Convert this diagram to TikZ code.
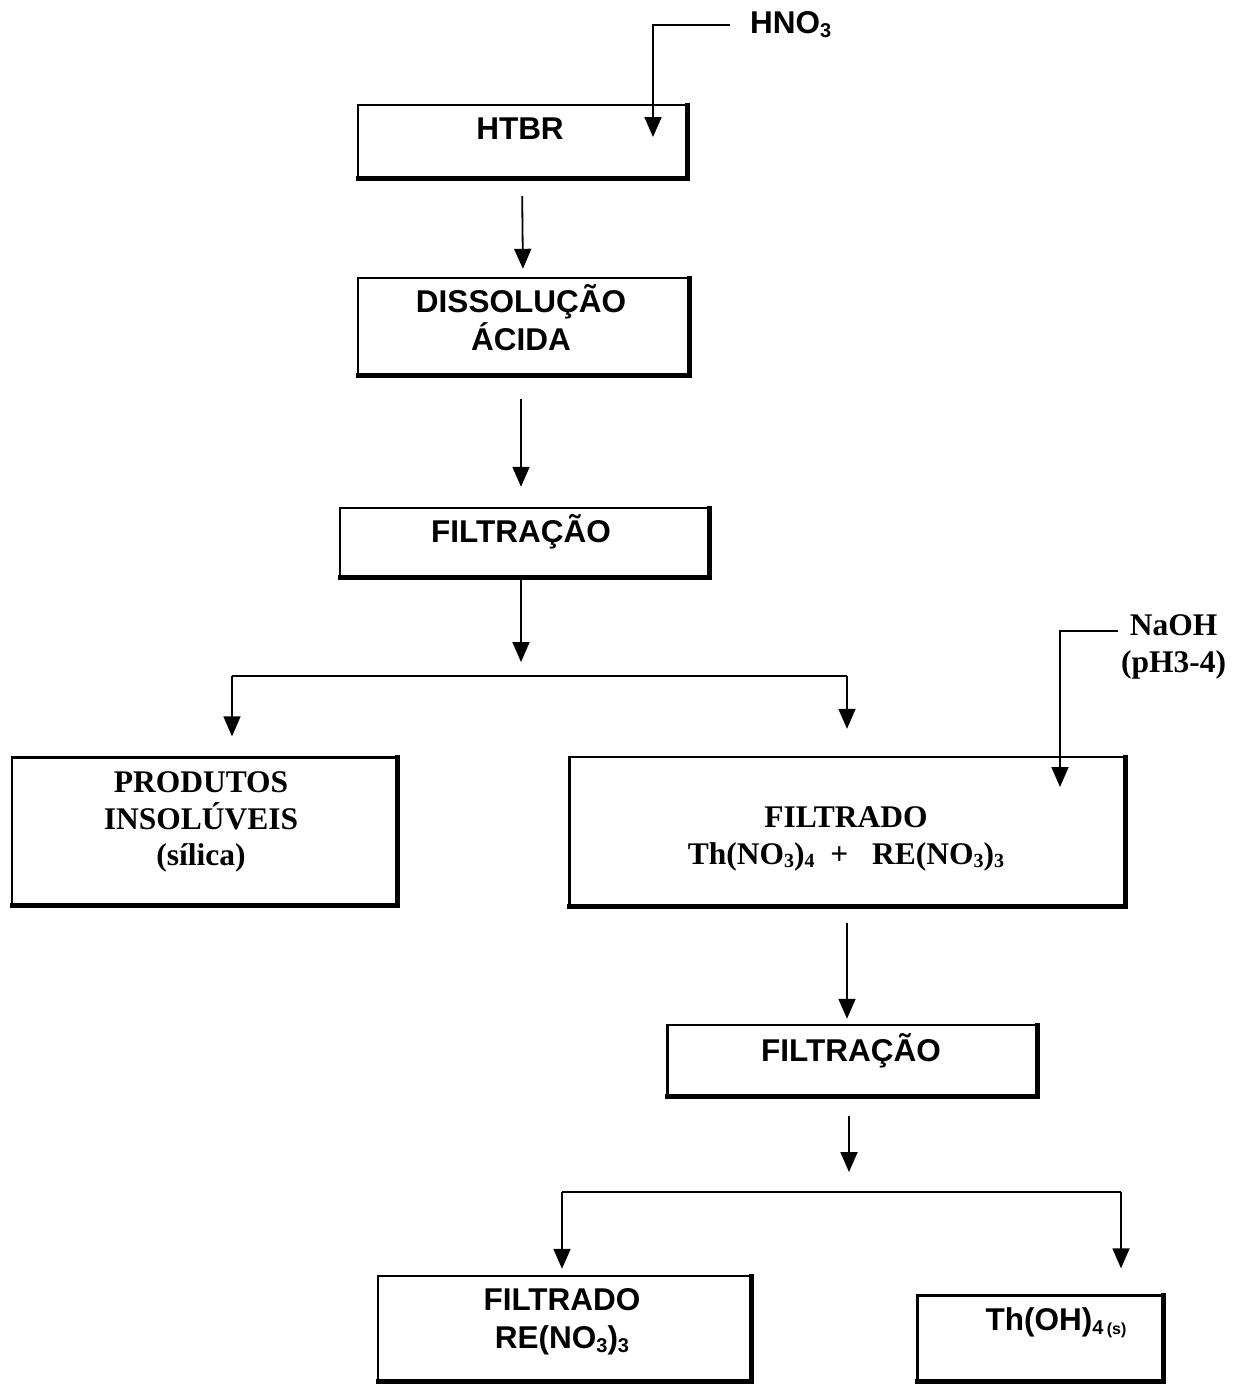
\documentclass[tikz,border=0pt]{standalone}
\usepackage{fontspec}
\setmainfont{Liberation Serif}
\setsansfont{Liberation Sans}
\usetikzlibrary{arrows.meta}

% chemical subscript, set a little smaller and lowered
\newcommand\chsub[1]{\raisebox{-0.25ex}{\fontsize{20}{20}\selectfont #1}}

\begin{document}
\begin{tikzpicture}[x=1pt,y=-1pt,
  box/.style={draw, line width=2.4pt, fill=white, inner sep=0pt},
  heavyedge/.style={line width=5pt, line join=miter, line cap=butt},
  sanslbl/.style={font=\fontsize{31.5}{38}\selectfont\sffamily\bfseries, align=center, inner sep=0pt},
  seriflbl/.style={font=\fontsize{31.5}{36.5}\selectfont\rmfamily\bfseries, align=center, inner sep=0pt},
  arr/.style={draw, line width=1.8pt, -{Triangle[width=17pt,length=20pt]}},
  ln/.style={draw, line width=1.8pt}]

\useasboundingbox (0,0) rectangle (1245,1384);

% boxes
\node[box, minimum width=328pt, minimum height=72pt]  (htbr)  at (522,141)  {};
\node[box, minimum width=330pt, minimum height=96pt]  (diss)  at (523,326)  {};
\node[box, minimum width=368pt, minimum height=68pt]  (filtA) at (524,542)  {};
\node[box, minimum width=384pt, minimum height=147pt] (prod)  at (204,831)  {};
\node[box, minimum width=555pt, minimum height=148pt] (filtrado) at (847,831) {};
\node[box, minimum width=369pt, minimum height=70pt]  (filtB) at (852,1060) {};
\node[box, minimum width=372pt, minimum height=104pt] (resid) at (564,1328) {};
\node[box, minimum width=245pt, minimum height=85pt]  (thoh)  at (1040,1338) {};

% heavier right and bottom edges of every box
\foreach \b in {htbr,diss,filtA,prod,filtrado,filtB,resid,thoh}
  \draw[heavyedge] ([yshift=1.2pt]\b.north east) -- (\b.south east) -- ([xshift=-1.2pt]\b.south west);

% labels
\node[sanslbl] (htbrtxt) at (520,129) {HTBR};
\node[sanslbl] (disstxt) at (521,318) {DISSOLUÇÃO\\ÁCIDA};
\node[sanslbl] (filtAtxt) at (521,532) {FILTRAÇÃO};
\node[seriflbl] (prodtxt) at (201,822) {PRODUTOS\\INSOLÚVEIS\\(sílica)};
\node[seriflbl] (filtradotxt) at (846,839) {FILTRADO\\Th(NO\chsub{3})\chsub{4}\ \ +\ \ \ RE(NO\chsub{3})\chsub{3}};
\node[sanslbl] (filtBtxt) at (851,1051) {FILTRAÇÃO};
\node[sanslbl] (residtxt) at (562,1322) {FILTRADO\\RE(NO\chsub{3})\chsub{3}};
\node[sanslbl] (thohtxt) at (1056,1323) {Th(OH)\chsub{4\,\fontsize{16}{16}\selectfont (s)}};
\node[sanslbl, anchor=west] (hno3) at (750,25) {HNO\chsub{3}};
\node[seriflbl, anchor=west] (naoh) at (1121,647) {NaOH\\(pH3-4)};

% junction and feed points
\coordinate (hno3start) at (730,25);
\coordinate (hno3end)   at (653,137);
\coordinate (naohstart) at (1118,631);
\coordinate (naohend)   at (1060,787);
\coordinate (jA) at (521,676);
\coordinate (jB) at (849,1192);

% reagent feeds
\draw[arr] (hno3start) -| (hno3end);
\draw[arr] (naohstart) -| (naohend);

% main flow
\draw[arr, shorten <=18pt, shorten >=8pt] (htbr.south) -- (diss.north);
\draw[arr, shorten <=24pt, shorten >=20pt] ([xshift=-2pt]diss.south) -- ([xshift=-2pt]diss.south |- filtA.north);
\draw[arr, shorten <=2pt, shorten >=14pt] (filtA.south -| jA) -- (jA);
\draw[ln] ([xshift=28pt]prod.north |- jA) -- (filtrado.north |- jA);
\draw[arr, shorten >=20pt] ([xshift=28pt]prod.north |- jA) -- ([xshift=28pt]prod.north);
\draw[arr, shorten >=27pt] (filtrado.north |- jA) -- (filtrado.north);

\draw[arr, shorten <=17pt, shorten >=5pt] (filtrado.south) -- (filtrado.south |- filtB.north);
\draw[arr, shorten <=20pt, shorten >=20pt] (filtB.south -| jB) -- (jB);
\draw[ln] ([xshift=-2pt]resid.north |- jB) -- ([xshift=81pt]thoh.north |- jB);
\draw[arr, shorten >=6pt] ([xshift=-2pt]resid.north |- jB) -- ([xshift=-2pt]resid.north);
\draw[arr, shorten >=26pt] ([xshift=81pt]thoh.north |- jB) -- ([xshift=81pt]thoh.north);
\end{tikzpicture}
\end{document}
